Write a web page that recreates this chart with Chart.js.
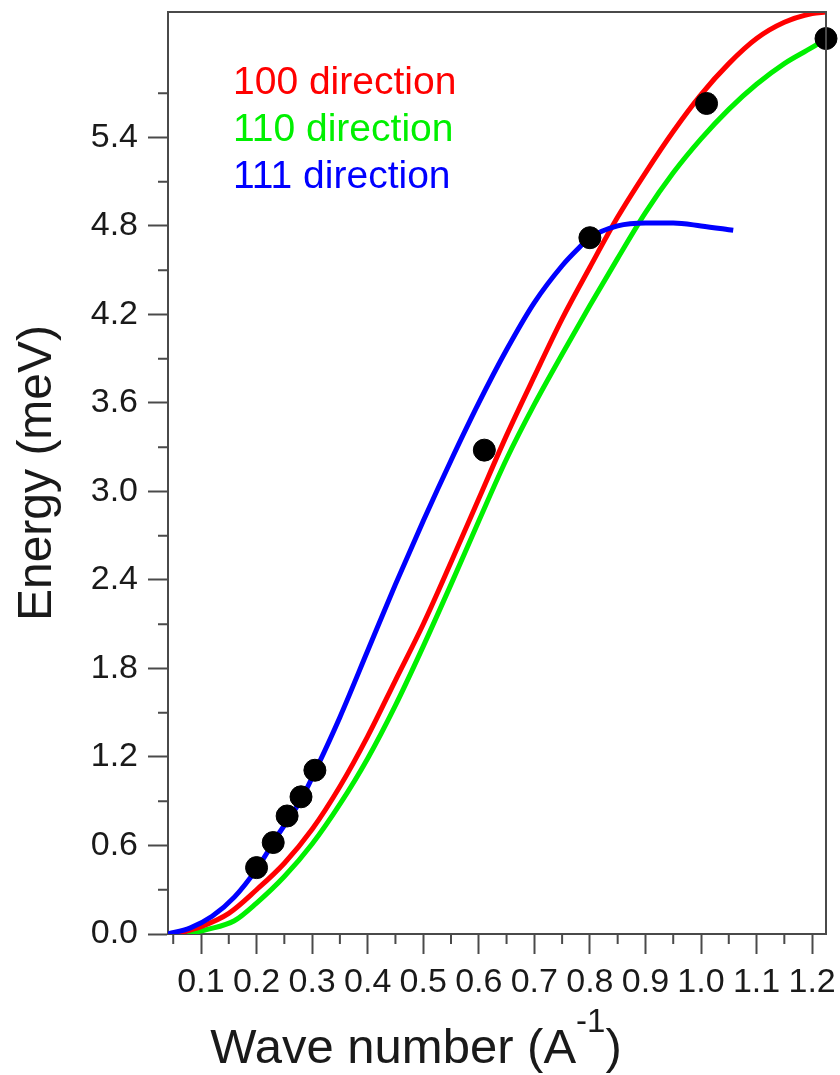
<!DOCTYPE html>
<html>
<head>
<meta charset="utf-8">
<script src="https://cdn.jsdelivr.net/npm/chart.js@4.4.0/dist/chart.umd.min.js"></script>
<style>
  html, body { margin: 0; padding: 0; background: #fff; }
  canvas { display: block; }
</style>
</head>
<body>
<canvas id="my-chart" width="840" height="1075"></canvas>
<script>
// values
const redX = [0.053, 0.10, 0.15, 0.20, 0.25, 0.30, 0.35, 0.40, 0.45, 0.50, 0.55, 0.60, 0.65, 0.70, 0.75, 0.80, 0.85, 0.90, 0.95, 1.00, 1.05, 1.10, 1.15, 1.20, 1.225]
const redY = [0.00, 0.05, 0.14, 0.30, 0.48, 0.71, 1.00, 1.34, 1.72, 2.10, 2.52, 2.95, 3.38, 3.78, 4.17, 4.52, 4.86, 5.16, 5.44, 5.69, 5.90, 6.07, 6.18, 6.24, 6.25]

const greenX = [0.075, 0.11, 0.16, 0.20, 0.25, 0.30, 0.35, 0.40, 0.45, 0.50, 0.55, 0.60, 0.65, 0.70, 0.75, 0.80, 0.85, 0.90, 0.95, 1.00, 1.05, 1.10, 1.15, 1.20, 1.225]
const greenY = [0.00, 0.03, 0.09, 0.21, 0.39, 0.61, 0.88, 1.19, 1.55, 1.95, 2.37, 2.80, 3.22, 3.59, 3.93, 4.26, 4.58, 4.89, 5.16, 5.39, 5.59, 5.76, 5.90, 6.01, 6.07]

const blueX = [0.04, 0.08, 0.12, 0.16, 0.20, 0.24, 0.28, 0.31, 0.35, 0.40, 0.45, 0.50, 0.55, 0.60, 0.65, 0.70, 0.75, 0.78, 0.80, 0.85, 0.90, 0.95, 1.00, 1.058]
const blueY = [0.00, 0.04, 0.12, 0.25, 0.44, 0.68, 0.91, 1.14, 1.47, 1.92, 2.37, 2.80, 3.21, 3.60, 3.96, 4.28, 4.53, 4.65, 4.72, 4.80, 4.82, 4.82, 4.80, 4.77]

const dotX = [0.20, 0.23, 0.255, 0.28, 0.305, 0.61, 0.80, 1.01, 1.225]
const dotY = [0.45, 0.62, 0.80, 0.93, 1.11, 3.28, 4.72, 5.63, 6.07]

const xTicks = [0.1, 0.2, 0.3, 0.4, 0.5, 0.6, 0.7, 0.8, 0.9, 1.0, 1.1, 1.2]
const xMinorTicks = [0.05, 0.15, 0.25, 0.35, 0.45, 0.55, 0.65, 0.75, 0.85, 0.95, 1.05, 1.15]
const yTicks = [0.0, 0.6, 1.2, 1.8, 2.4, 3.0, 3.6, 4.2, 4.8, 5.4]
const yMinorTicks = [0.3, 0.9, 1.5, 2.1, 2.7, 3.3, 3.9, 4.5, 5.1, 5.7]

const FONT = '"Liberation Sans", Arial, sans-serif'
const AXIS_COLOR = '#4a4a4a'
const TEXT_COLOR = '#1a1a1a'

const pairs = (xs, ys) => xs.map((x, i) => ({ x: x, y: ys[i] }))

window.onload = function () {
  Chart.defaults.font.family = FONT

  // minor ticks, frame on top/right, direction labels and x title with superscript
  const extras = {
    id: 'extras',
    afterDraw(chart) {
      const { ctx, chartArea, scales } = chart
      ctx.save()
      ctx.strokeStyle = AXIS_COLOR
      ctx.lineWidth = 2
      ctx.beginPath()
      xMinorTicks.forEach((v) => {
        const px = scales.x.getPixelForValue(v)
        ctx.moveTo(px, chartArea.bottom)
        ctx.lineTo(px, chartArea.bottom + 10)
      })
      yMinorTicks.forEach((v) => {
        const py = scales.y.getPixelForValue(v)
        ctx.moveTo(chartArea.left - 10, py)
        ctx.lineTo(chartArea.left, py)
      })
      ctx.moveTo(chartArea.left, chartArea.top)
      ctx.lineTo(chartArea.right, chartArea.top)
      ctx.lineTo(chartArea.right, chartArea.bottom)
      ctx.stroke()

      // direction labels
      ctx.font = '39px ' + FONT
      ctx.textBaseline = 'alphabetic'
      ctx.textAlign = 'left'
      const lines = chart.data.datasets.filter((d) => d.type === 'line')
      lines.forEach((d, i) => {
        ctx.fillStyle = d.borderColor
        ctx.fillText(d.label, chartArea.left + 65, chartArea.top + 82 + i * 47)
      })

      // x axis title: Wave number (A^-1)
      const mainFont = '49px ' + FONT
      const supFont = '33px ' + FONT
      const part1 = 'Wave number (A'
      const sup = '-1'
      const part2 = ')'
      ctx.font = mainFont
      const w1 = ctx.measureText(part1).width
      const w3 = ctx.measureText(part2).width
      ctx.font = supFont
      const w2 = ctx.measureText(sup).width
      let x = chart.width / 2 - (w1 + w2 + w3) / 2 - 4
      const base = 1063
      ctx.fillStyle = TEXT_COLOR
      ctx.font = mainFont
      ctx.fillText(part1, x, base)
      x += w1
      ctx.font = supFont
      ctx.fillText(sup, x, base - 31)
      x += w2
      ctx.font = mainFont
      ctx.fillText(part2, x, base)
      ctx.restore()
    }
  }

  const ctx = document.getElementById('my-chart').getContext('2d')
  const chart = new Chart(ctx, {
    data: {
      datasets: [
        {
          type: 'line',
          label: '100 direction',
          data: pairs(redX, redY),
          borderColor: '#ff0000',
          borderWidth: 5,
          pointRadius: 0,
          cubicInterpolationMode: 'monotone',
          order: 2,
        },
        {
          type: 'line',
          label: '110 direction',
          data: pairs(greenX, greenY),
          borderColor: '#00f000',
          borderWidth: 5,
          pointRadius: 0,
          cubicInterpolationMode: 'monotone',
          order: 3,
        },
        {
          type: 'line',
          label: '111 direction',
          data: pairs(blueX, blueY),
          borderColor: '#0000ff',
          borderWidth: 5,
          pointRadius: 0,
          cubicInterpolationMode: 'monotone',
          order: 1,
        },
        {
          type: 'scatter',
          label: 'measured',
          data: pairs(dotX, dotY),
          backgroundColor: '#000',
          borderColor: '#000',
          pointRadius: 11,
          pointHoverRadius: 11,
          clip: false,
          order: 0,
        },
      ],
    },
    options: {
      responsive: false,
      animation: false,
      layout: { padding: { left: 0, right: 14, top: 11, bottom: 0 } },
      plugins: {
        legend: { display: false },
        tooltip: { enabled: false },
      },
      scales: {
        x: {
          type: 'linear',
          min: 0.0406,
          max: 1.225,
          afterBuildTicks: (scale) => { scale.ticks = xTicks.map((v) => ({ value: v })) },
          afterFit: (scale) => {
            scale.height = 141
            scale.paddingLeft = 0
            scale.paddingRight = 0
          },
          grid: { drawOnChartArea: false, drawTicks: true, tickLength: 20, tickColor: AXIS_COLOR, tickWidth: 2 },
          border: { display: true, color: AXIS_COLOR, width: 2 },
          ticks: {
            autoSkip: false,
            maxRotation: 0,
            minRotation: 0,
            padding: 8,
            color: TEXT_COLOR,
            font: { size: 34 },
            callback: (v) => Number(v).toFixed(1),
          },
        },
        y: {
          type: 'linear',
          min: 0,
          max: 6.25,
          afterBuildTicks: (scale) => { scale.ticks = yTicks.map((v) => ({ value: v })) },
          afterFit: (scale) => {
            scale.width = 168
            scale.paddingTop = 0
            scale.paddingBottom = 0
          },
          grid: { drawOnChartArea: false, drawTicks: true, tickLength: 20, tickColor: AXIS_COLOR, tickWidth: 2 },
          border: { display: true, color: AXIS_COLOR, width: 2 },
          ticks: {
            padding: 10,
            color: TEXT_COLOR,
            font: { size: 34 },
            callback: (v) => Number(v).toFixed(1),
          },
          title: {
            display: true,
            text: 'Energy (meV)',
            color: TEXT_COLOR,
            font: { size: 48 },
            padding: { top: 9, bottom: 0 },
          },
        },
      },
    },
    plugins: [extras],
  })
}
</script>
</body>
</html>
